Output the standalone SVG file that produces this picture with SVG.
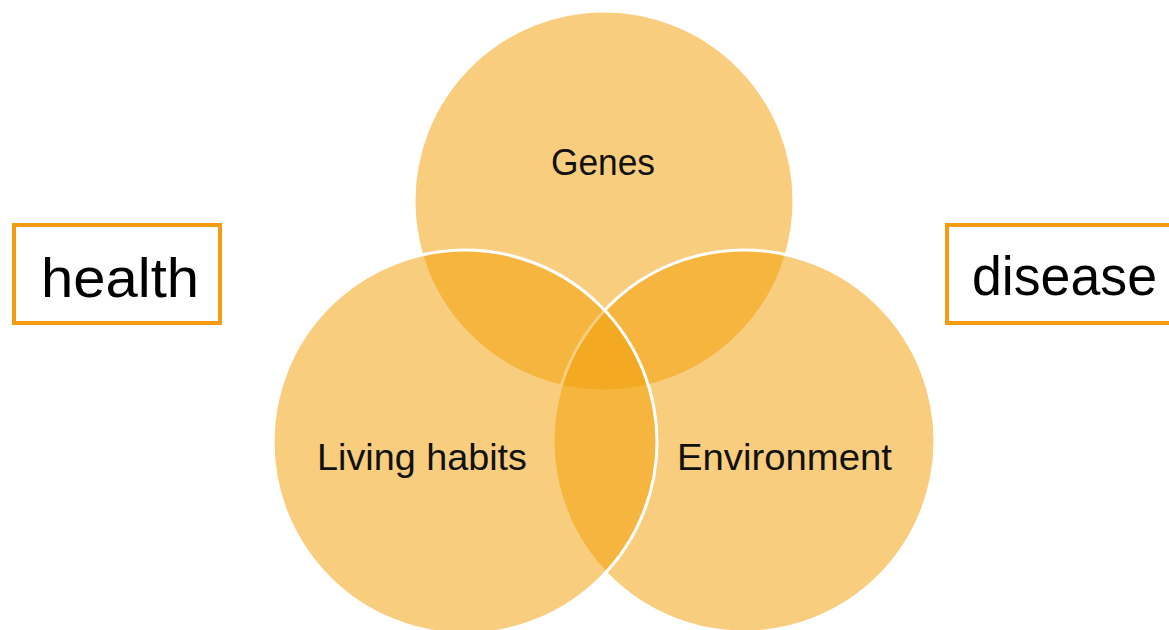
<svg xmlns="http://www.w3.org/2000/svg" width="1169" height="630" viewBox="0 0 1169 630">
<style>
.c{fill:#F29F05;fill-opacity:0.52;stroke:#FFFFFF;stroke-width:3}
.lbl{font-family:"Liberation Sans",Arial,sans-serif;font-size:37px;fill:#111111;text-anchor:middle}
.big{font-family:"Liberation Sans",Arial,sans-serif;font-size:55px;fill:#000000;text-anchor:middle}
.box{fill:#FFFFFF;stroke:#F39C12;stroke-width:4}
</style>
<rect width="1169" height="630" fill="#FFFFFF"/>
<g id="health">
<rect class="box" x="14" y="225" width="206" height="98"/>
<text class="big" x="120" y="297" textLength="158" lengthAdjust="spacingAndGlyphs">health</text>
</g>
<g id="disease">
<rect class="box" x="947" y="225" width="240" height="98"/>
<text class="big" x="1064.5" y="295" textLength="185" lengthAdjust="spacingAndGlyphs">disease</text>
</g>
<g id="genes">
<circle class="c" cx="604" cy="201" r="190"/>
</g>
<g id="environment">
<circle class="c" cx="744" cy="441" r="191"/>
</g>
<g id="living-habits">
<circle class="c" cx="465" cy="442" r="192"/>
</g>
<g id="labels">
<text class="lbl" x="603" y="175" textLength="104" lengthAdjust="spacingAndGlyphs">Genes</text>
<text class="lbl" x="422" y="470" textLength="210" lengthAdjust="spacingAndGlyphs">Living habits</text>
<text class="lbl" x="784.5" y="470" textLength="215" lengthAdjust="spacingAndGlyphs">Environment</text>
</g>
<g id="connectors"></g>
</svg>
